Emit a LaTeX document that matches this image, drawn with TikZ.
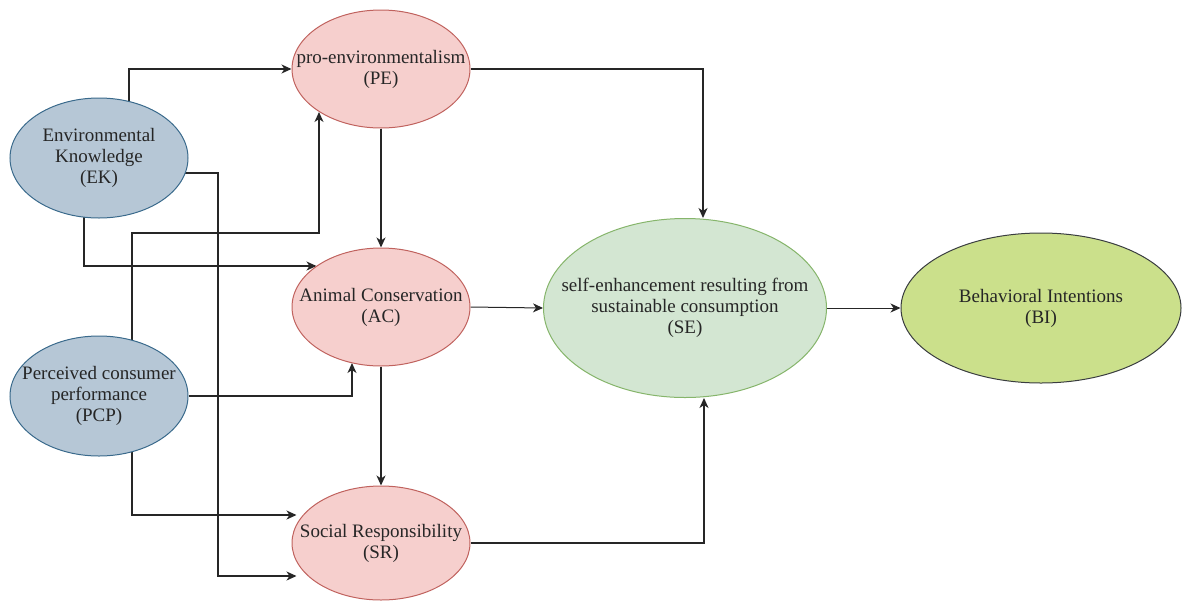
\documentclass[tikz,border=0pt]{standalone}
\usepackage{fontspec}
\setmainfont{Liberation Serif}
\usetikzlibrary{positioning, shapes.geometric, arrows.meta, backgrounds}
\definecolor{bluefill}{HTML}{B6C7D6}
\definecolor{bluedraw}{HTML}{3A6A8C}
\definecolor{redfill}{HTML}{F6CFCD}
\definecolor{reddraw}{HTML}{C0625E}
\definecolor{greenfill}{HTML}{D3E6D2}
\definecolor{greendraw}{HTML}{86B56B}
\definecolor{limefill}{HTML}{CBE08B}
\definecolor{limedraw}{HTML}{3A3D40}
\tikzset{construct/.style = {ellipse,draw,inner xsep=-40pt,inner ysep=0pt,align=center,line width=1pt,
                             font=\fontsize{19}{21}\selectfont,text=black!85},
         exo/.style   = {construct,fill=bluefill,draw=bluedraw,minimum width=178,minimum height=120},
         med/.style   = {construct,fill=redfill,draw=reddraw,minimum width=178,minimum height=118},
         link/.style  = {draw=black!85,line width=1.4pt,-{Stealth[length=10pt,width=9pt,inset=3pt]}}}

\begin{document}
\begin{tikzpicture}[x=1pt,y=-1pt]
    \useasboundingbox (0,0) rectangle (1182,600);
    \node[exo] (ek)  at ( 99,158) {Environmental\\Knowledge\\(EK)};
    \node[exo] (pcp) at ( 99,396) {Perceived consumer\\performance\\(PCP)};
    \node[med] (pe)  at (381, 69) {pro-environmentalism\\(PE)};
    \node[med] (ac)  at (381,307) {Animal Conservation\\(AC)};
    \node[med,minimum height=114] (sr) at (381,543) {Social Responsibility\\(SR)};
    \node[construct,fill=greenfill,draw=greendraw,minimum width=283,minimum height=179] (se) at (685,308)
        {self-enhancement resulting from\\sustainable consumption\\(SE)};
    \node[construct,fill=limefill,draw=limedraw,minimum width=280,minimum height=150] (bi) at (1041,308)
        {Behavioral Intentions\\(BI)};
    \begin{scope}[on background layer]
        \draw[link] ([xshift=30pt]ek.center) |- (pe.west);
        \draw[link] ([xshift=-15pt]ek.center) |- ([xshift=25pt,yshift=41pt]ac.west);
        \draw[link] ([yshift=-15pt]ek.center) -- ++(119,0) |- ([xshift=5pt,yshift=-33pt]sr.west);
        \draw[link] ([xshift=33pt]pcp.center) -- ++(0,-163) -| ([xshift=-62pt,yshift=-43pt]pe.center);
        \draw[link] (pcp.east) -| ([xshift=-29pt,yshift=-56pt]ac.center);
        \draw[link] ([xshift=33pt]pcp.center) |- ([xshift=5pt,yshift=28pt]sr.west);
        \draw[link] (pe) -- (ac);
        \draw[link] (ac) -- (sr);
        \draw[link] (pe.east) -| ([xshift=18pt]se.north);
        \draw[link,line width=1pt] (ac.east) -- (se.west);
        \draw[link] (sr.east) -| ([xshift=19pt]se.south);
        \draw[link,line width=1pt] (se.east) -- (bi.west);
    \end{scope}
\end{tikzpicture}
\end{document}
